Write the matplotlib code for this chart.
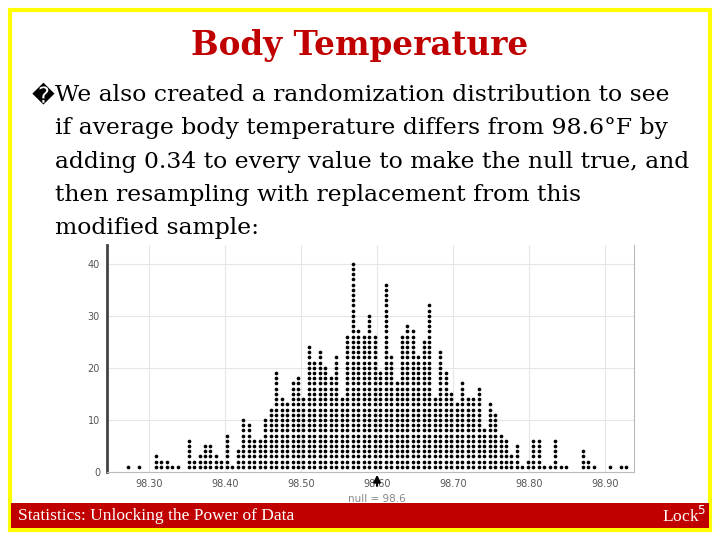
import numpy as np
import matplotlib
matplotlib.use("Agg")
import matplotlib.pyplot as plt
from matplotlib.patches import Rectangle

heights = [1,0,1,0,0,3,2,2,1,1,0,6,2,3,5,5,3,2,7,1,4,10,9,6,6,10,12,19,14,13,17,18,14,24,21,23,20,18,22,14,26,40,27,
           26,30,26,19,36,22,17,26,28,27,22,25,32,14,23,19,15,13,17,14,14,16,8,13,11,7,6,3,5,1,2,6,6,1,1,6,1,1,0,0,4,2,1,0,0,1,0,1,1]
x_start = 98.2728
x_step = 0.0072
xticks = [98.30, 98.40, 98.50, 98.60, 98.70, 98.80, 98.90]
yticks = [0, 10, 20, 30, 40]
null_value = 98.6

fig = plt.figure(figsize=(7.2, 5.4), dpi=100)
W, H = 720, 540
def fx(p): return p / W
def fy(p): return 1 - p / H

fig.patches.append(Rectangle((fx(10), fy(530)), fx(700), 520 / H, transform=fig.transFigure,
                             fill=False, edgecolor="#FFFF00", linewidth=3))
fig.patches.append(Rectangle((fx(11), fy(528)), fx(698), 25 / H, transform=fig.transFigure,
                             facecolor="#C00000", edgecolor="none"))
fig.text(fx(18), fy(516), "Statistics: Unlocking the Power of Data", color="white",
         fontsize=12.5, family="Liberation Serif", va="center", ha="left")
fig.text(fx(706), fy(516), "Lock$^5$", color="white", fontsize=12.5, family="Liberation Serif",
         va="center", ha="right")

fig.text(0.5, fy(46), "Body Temperature", color="#C00000", fontsize=23.5, fontweight="bold",
         family="DejaVu Serif", ha="center", va="center")
lines = ["We also created a randomization distribution to see",
         "if average body temperature differs from 98.6°F by",
         "adding 0.34 to every value to make the null true, and",
         "then resampling with replacement from this",
         "modified sample:"]
fig.text(fx(32), fy(95), "\ufffd", fontsize=16, family="DejaVu Sans", va="center", ha="left")
for i, t in enumerate(lines):
    fig.text(fx(55), fy(95 + i * 33.3), t, fontsize=16.9, family="DejaVu Serif", va="center", ha="left")

ax = fig.add_axes([fx(107), fy(472), (634 - 107) / W, (472 - 245) / H])
xs, ys = [], []
for i, h in enumerate(heights):
    for k in range(1, h + 1):
        xs.append(x_start + i * x_step)
        ys.append(k)
ax.scatter(xs, ys, s=7, color="black", zorder=3, linewidths=0)
ax.set_xlim(98.2447, 98.938)
ax.set_ylim(0, 43.6)
ax.set_xticks(xticks)
ax.set_xticklabels([f"{v:.2f}" for v in xticks])
ax.set_yticks(yticks)
ax.tick_params(length=0, labelsize=7, colors="#555555", pad=5)
ax.grid(True, color="#e6e6e6", linewidth=0.8)
ax.set_axisbelow(True)
ax.spines["left"].set_color("#444444"); ax.spines["left"].set_linewidth(2)
ax.spines["right"].set_color("#bbbbbb")
ax.spines["top"].set_visible(False)
ax.spines["bottom"].set_color("#bbbbbb")
ax.annotate("", xy=(null_value, 0), xytext=(null_value, -3.2),
            arrowprops=dict(arrowstyle="-|>", color="black", lw=1.5), annotation_clip=False)
ax.text(null_value, -5.2, f"null = {null_value}", fontsize=7.5, color="#888888", ha="center", va="center")

fig.savefig("out.png", dpi=100)
